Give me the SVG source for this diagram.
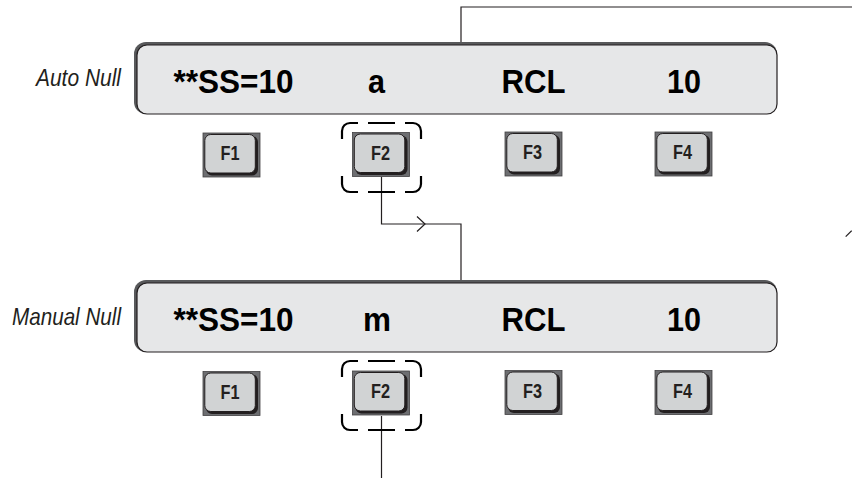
<svg xmlns="http://www.w3.org/2000/svg" xmlns:xlink="http://www.w3.org/1999/xlink" width="852" height="480" viewBox="0 0 852 480">
<style>
.lbl{font-family:"Liberation Sans",Arial,sans-serif;font-style:italic;font-size:24px;fill:#231f20;text-anchor:end}
.disp-text{font-family:"Liberation Sans",Arial,sans-serif;font-weight:bold;font-size:33px;fill:#000;text-anchor:middle}
.key-text{font-family:"Liberation Sans",Arial,sans-serif;font-weight:bold;font-size:21px;fill:#231f20;text-anchor:middle}
.conn{fill:none;stroke:#231f20;stroke-width:1.2}
.hl{fill:none;stroke:#000;stroke-width:2.2}
</style>
<defs>
  <g id="display">
    <rect x="0" y="0" width="643" height="72" rx="12" fill="#58595b"/>
    <rect x="3" y="3" width="640" height="69" rx="10" fill="#e6e7e8" stroke="#231f20" stroke-width="1.2"/>
  </g>
  <g id="key">
    <rect x="0" y="0" width="57" height="44" fill="#6d6e71" stroke="#414042" stroke-width="0.8"/>
    <rect x="3" y="3" width="52" height="39.5" rx="6" fill="#231f20"/>
    <rect x="1.8" y="1.5" width="50.5" height="38.5" rx="6" fill="#d1d3d4" stroke="#231f20" stroke-width="1"/>
  </g>
  <path id="dash" d="M0 16V8A8 8 0 0 1 8 0H16M26 0H53M63 0H71A8 8 0 0 1 79 8V16M79 53V61A8 8 0 0 1 71 69H63M53 69H26M16 69H8A8 8 0 0 1 0 61V53"/>
</defs>

<g id="connectors">
  <path class="conn" d="M461 43V7H852"/>
  <path class="conn" d="M381.5 177V224H461V281"/>
  <path class="conn" d="M417 216.5L425 224L417 231.5"/>
  <path class="conn" d="M381.5 416V478"/>
  <path class="conn" d="M845.7 236.7L851.7 230.7"/>
</g>

<g id="label-auto"><text class="lbl" x="121" y="86" textLength="85" lengthAdjust="spacingAndGlyphs">Auto Null</text></g>
<g id="label-manual"><text class="lbl" x="121" y="325" textLength="109" lengthAdjust="spacingAndGlyphs">Manual Null</text></g>

<g id="display-auto">
  <use xlink:href="#display" x="134" y="42"/>
  <text class="disp-text" x="233.5" y="92.5" textLength="120" lengthAdjust="spacingAndGlyphs">**SS=10</text>
  <text class="disp-text" x="376.5" y="92.5" textLength="17" lengthAdjust="spacingAndGlyphs">a</text>
  <text class="disp-text" x="533.5" y="92.5" textLength="64" lengthAdjust="spacingAndGlyphs">RCL</text>
  <text class="disp-text" x="684" y="92.5" textLength="34" lengthAdjust="spacingAndGlyphs">10</text>
</g>
<g id="display-manual">
  <use xlink:href="#display" x="134" y="280"/>
  <text class="disp-text" x="233.5" y="330.5" textLength="120" lengthAdjust="spacingAndGlyphs">**SS=10</text>
  <text class="disp-text" x="377" y="330.5" textLength="28" lengthAdjust="spacingAndGlyphs">m</text>
  <text class="disp-text" x="533.5" y="330.5" textLength="64" lengthAdjust="spacingAndGlyphs">RCL</text>
  <text class="disp-text" x="684" y="330.5" textLength="34" lengthAdjust="spacingAndGlyphs">10</text>
</g>

<g id="key-f1-top"><use xlink:href="#key" x="203" y="133"/><text class="key-text" x="230" y="160" textLength="19" lengthAdjust="spacingAndGlyphs">F1</text></g>
<g id="key-f2-top"><use xlink:href="#key" x="352.5" y="132.5"/><text class="key-text" x="380.5" y="159.5" textLength="19" lengthAdjust="spacingAndGlyphs">F2</text></g>
<g id="key-f3-top"><use xlink:href="#key" x="505" y="132"/><text class="key-text" x="532.5" y="159" textLength="19" lengthAdjust="spacingAndGlyphs">F3</text></g>
<g id="key-f4-top"><use xlink:href="#key" x="655" y="132"/><text class="key-text" x="682.5" y="159" textLength="19" lengthAdjust="spacingAndGlyphs">F4</text></g>

<g id="key-f1-bottom"><use xlink:href="#key" x="203" y="371.5"/><text class="key-text" x="230" y="398.5" textLength="19" lengthAdjust="spacingAndGlyphs">F1</text></g>
<g id="key-f2-bottom"><use xlink:href="#key" x="352.5" y="371"/><text class="key-text" x="380.5" y="398" textLength="19" lengthAdjust="spacingAndGlyphs">F2</text></g>
<g id="key-f3-bottom"><use xlink:href="#key" x="505" y="370.5"/><text class="key-text" x="532.5" y="397.5" textLength="19" lengthAdjust="spacingAndGlyphs">F3</text></g>
<g id="key-f4-bottom"><use xlink:href="#key" x="655" y="370.5"/><text class="key-text" x="682.5" y="397.5" textLength="19" lengthAdjust="spacingAndGlyphs">F4</text></g>

<g id="highlight-top"><use xlink:href="#dash" class="hl" x="342" y="123"/></g>
<g id="highlight-bottom"><use xlink:href="#dash" class="hl" x="342" y="361"/></g>
</svg>
